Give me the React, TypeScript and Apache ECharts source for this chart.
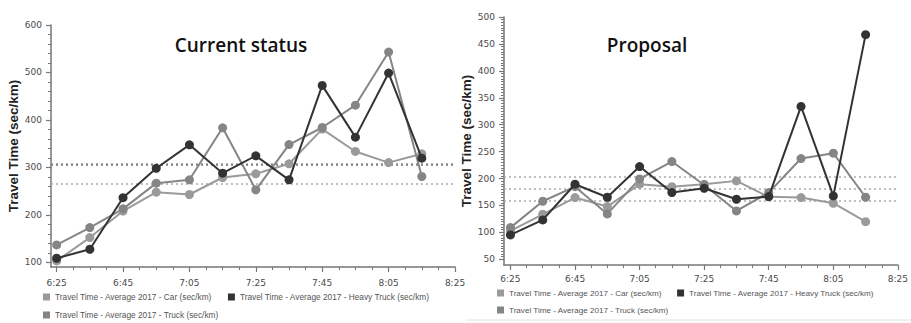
import React, { useEffect, useRef } from "react";
import * as echarts from "echarts";

// ---- Data ----
const times = ["6:25", "6:35", "6:45", "6:55", "7:05", "7:15", "7:25", "7:35", "7:45", "7:55", "8:05", "8:15"];
const xTickLabels = ["6:25", "6:45", "7:05", "7:25", "7:45", "8:05", "8:25"];
const xMinorTickLabels = ["6:25", "6:30", "6:35", "6:40", "6:45", "6:50", "6:55", "7:00", "7:05", "7:10", "7:15", "7:20", "7:25", "7:30", "7:35", "7:40", "7:45", "7:50", "7:55", "8:00", "8:05", "8:10", "8:15", "8:20", "8:25"];

const currentYTicks = [100, 200, 300, 400, 500, 600];
const proposalYTicks = [50, 100, 150, 200, 250, 300, 350, 400, 450, 500];

const currentCar = [102.8, 152, 208, 247.7, 242.8, 278.6, 286.4, 307.5, 380.6, 333.5, 310, 328.5];
const currentHeavy = [108.4, 127.4, 236, 298, 347.5, 287.8, 324.3, 273.7, 472.7, 363.7, 498.7, 319.4];
const currentTruck = [136.6, 173, 212.5, 266.7, 273.7, 383.4, 252.6, 348, 384, 431, 543, 280.7];

const proposalCar = [102.7, 133.7, 164.7, 148, 189.5, 185, 189.5, 195.7, 166, 164.7, 154.2, 120];
const proposalHeavy = [95.3, 123.2, 189.5, 165.3, 222.3, 174, 182, 161.6, 166.5, 334, 167.8, 467.2];
const proposalTruck = [108.9, 157.9, 185, 134.3, 199.4, 231.6, 188, 139.9, 174, 237.2, 247.2, 165.3];

const seriesNames = [
  "Travel Time - Average 2017 - Car (sec/km)",
  "Travel Time - Average 2017 - Heavy Truck (sec/km)",
  "Travel Time - Average 2017 - Truck (sec/km)",
];
const titles = ["Current status", "Proposal"];
const yAxisName = "Travel Time (sec/km)";

// ---- helpers ----
const START = 6 * 60 + 25;
const toMin = (t: string) => {
  const [h, m] = t.split(":").map(Number);
  return h * 60 + m - START;
};
const fmt = (v: number) => {
  const tot = START + Math.round(v);
  return `${Math.floor(tot / 60)}:${String(tot % 60).padStart(2, "0")}`;
};
const range = (a: number, b: number, s: number) => {
  const r: number[] = [];
  for (let v = a; v <= b + 1e-9; v += s) r.push(v);
  return r;
};

const COLORS = { car: "#9a9a9a", heavy: "#333333", truck: "#858585" };
const AXIS_COLOR = "#777777";
const LABEL_COLOR = "#4a4a4a";

export default function App() {
  const ref = useRef<HTMLDivElement>(null);

  useEffect(() => {
    if (!ref.current) return;
    const chart = echarts.init(ref.current, undefined, { renderer: "svg" });

    const majorX = xTickLabels.map(toMin);
    const minorX = xMinorTickLabels.map(toMin);

    const panels = [
      {
        grid: { left: 51, right: 456, top: 25, bottom: 56 },
        xMin: -1.7,
        yMin: 90,
        yMax: 600,
        yTicks: currentYTicks,
        yMinor: range(100, 600, 20),
        data: [currentCar, currentHeavy, currentTruck],
        nameGap: 28,
        labelMargin: 11,
        avgColors: ["#aaaaaa", "#777777", "#999999"],
      },
      {
        grid: { left: 504, right: 13, top: 17, bottom: 58 },
        xMin: -2,
        yMin: 39.5,
        yMax: 500,
        yTicks: proposalYTicks,
        yMinor: range(50, 500, 5),
        data: [proposalCar, proposalHeavy, proposalTruck],
        nameGap: 27,
        labelMargin: 9,
        avgColors: ["#aaaaaa", "#aaaaaa", "#aaaaaa"],
      },
    ];

    const grids: any[] = [];
    const xAxes: any[] = [];
    const yAxes: any[] = [];
    const series: any[] = [];

    panels.forEach((p, i) => {
      grids.push(p.grid);
      const xMajorIdx = xAxes.length;
      xAxes.push({
        type: "value",
        gridIndex: i,
        position: "bottom",
        min: p.xMin,
        max: 120,
        axisLine: { show: true, onZero: false, lineStyle: { color: AXIS_COLOR, width: 1.5 } },
        axisTick: { show: true, customValues: majorX, length: 5, lineStyle: { color: AXIS_COLOR, width: 1.2 } },
        axisLabel: {
          show: true,
          customValues: majorX,
          formatter: (v: number) => fmt(v),
          margin: p.labelMargin,
          color: LABEL_COLOR,
          fontSize: 9,
          fontFamily: "DejaVu Sans",
        },
        splitLine: { show: false },
      });
      xAxes.push({
        type: "value",
        gridIndex: i,
        position: "bottom",
        min: p.xMin,
        max: 120,
        axisLine: { show: false, onZero: false },
        axisTick: { show: true, customValues: minorX, length: 3, lineStyle: { color: AXIS_COLOR, width: 1 } },
        axisLabel: { show: false },
        splitLine: { show: false },
      });
      const yMajorIdx = yAxes.length;
      yAxes.push({
        type: "value",
        gridIndex: i,
        position: "left",
        min: p.yMin,
        max: p.yMax,
        name: yAxisName,
        nameLocation: "middle",
        nameGap: p.nameGap,
        nameRotate: 90,
        nameTextStyle: { fontFamily: "Liberation Sans", fontWeight: "bold", fontSize: 13.5, color: "#222" },
        axisLine: { show: true, onZero: false, lineStyle: { color: AXIS_COLOR, width: 1.5 } },
        axisTick: { show: true, customValues: p.yTicks, length: 5, lineStyle: { color: AXIS_COLOR, width: 1.2 } },
        axisLabel: {
          show: true,
          customValues: p.yTicks,
          margin: 9,
          color: LABEL_COLOR,
          fontSize: 9,
          fontFamily: "DejaVu Sans",
        },
        splitLine: { show: false },
      });
      yAxes.push({
        type: "value",
        gridIndex: i,
        position: "left",
        min: p.yMin,
        max: p.yMax,
        axisLine: { show: false, onZero: false },
        axisTick: { show: true, customValues: p.yMinor, length: 3, lineStyle: { color: AXIS_COLOR, width: 1 } },
        axisLabel: { show: false },
        splitLine: { show: false },
      });

      const colorList = [COLORS.car, COLORS.heavy, COLORS.truck];
      // draw order: car, truck, heavy (heavy on top)
      [0, 2, 1].forEach((k) => {
        series.push({
          type: "line",
          name: seriesNames[k],
          xAxisIndex: xMajorIdx,
          yAxisIndex: yMajorIdx,
          data: times.map((t, j) => [toMin(t), p.data[k][j]]),
          symbol: "circle",
          symbolSize: 9,
          lineStyle: { color: colorList[k], width: 2 },
          itemStyle: { color: colorList[k] },
          z: k === 1 ? 4 : 3,
          markLine: {
            silent: true,
            symbol: ["none", "none"],
            label: { show: false },
            lineStyle: { color: p.avgColors[k], type: [2, 3], width: 1.5 },
            data: [{ type: "average", valueDim: "y" }],
            z: 1,
          },
        });
      });
    });

    const legendBase = {
      orient: "horizontal",
      icon: "rect",
      itemWidth: 7,
      itemHeight: 7,
      padding: 0,
      selectedMode: false,
    };
    const legends = [
      { ...legendBase, left: 43, top: 293, itemGap: 16, data: [seriesNames[0], seriesNames[1]], textStyle: { fontSize: 8.3, color: "#555", fontFamily: "Liberation Sans" } },
      { ...legendBase, left: 43, top: 311, itemGap: 16, data: [seriesNames[2]], textStyle: { fontSize: 8.3, color: "#555", fontFamily: "Liberation Sans" } },
      { ...legendBase, left: 497, top: 289, itemGap: 15, data: [seriesNames[0], seriesNames[1]], textStyle: { fontSize: 8.1, color: "#555", fontFamily: "Liberation Sans" } },
      { ...legendBase, left: 497, top: 306, itemGap: 15, data: [seriesNames[2]], textStyle: { fontSize: 8.1, color: "#555", fontFamily: "Liberation Sans" } },
    ];

    chart.setOption({
      animation: false,
      backgroundColor: "#ffffff",
      grid: grids,
      xAxis: xAxes,
      yAxis: yAxes,
      legend: legends,
      series,
      graphic: [
        {
          type: "text",
          x: 241,
          y: 45,
          style: { text: titles[0], align: "center", verticalAlign: "middle", font: "600 19px 'Open Sans'", fill: "#111" },
        },
        {
          type: "text",
          x: 647,
          y: 45,
          style: { text: titles[1], align: "center", verticalAlign: "middle", font: "600 19px 'Open Sans'", fill: "#111" },
        },
        {
          type: "line",
          shape: { x1: 466, y1: 320, x2: 911, y2: 320 },
          style: { stroke: "#e2e2e2", lineWidth: 1 },
        },
      ],
    });

    return () => chart.dispose();
  }, []);

  return <div ref={ref} style={{ position: "absolute", left: 0, top: 0, width: 911, height: 323 }} />;
}
